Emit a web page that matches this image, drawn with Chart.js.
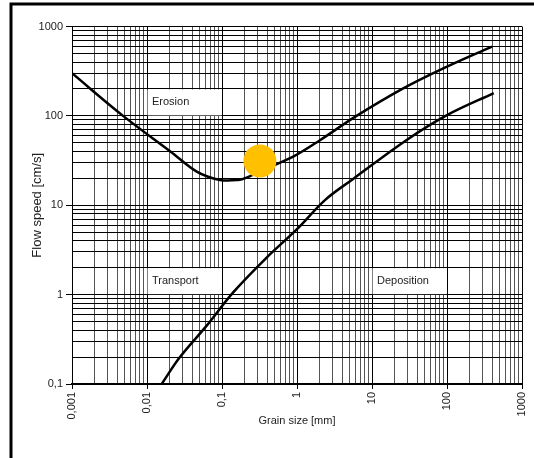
<!DOCTYPE html>
<html>
<head>
<meta charset="utf-8">
<title>Hjulström diagram</title>
<script src="https://cdn.jsdelivr.net/npm/chart.js@4/dist/chart.umd.min.js"></script>
<style>
  html, body { margin: 0; padding: 0; background: #fff; }
  canvas { display: block; }
</style>
</head>
<body>
<canvas id="c" width="534" height="458"></canvas>
<script>
// Erosion threshold curve: grain size [mm] vs. flow speed [cm/s]
const erosionGrain = [0.001, 0.0048, 0.0207, 0.046, 0.094, 0.165, 0.213, 0.4, 0.89, 2.05, 6, 25, 81, 398];
const erosionSpeed = [300, 100, 39.8, 23.8, 19.2, 19.2, 20.4, 26, 35, 53.8, 98, 199, 327, 597];

// Deposition (settling) curve
const depositionGrain = [0.0157, 0.0275, 0.0625, 0.141, 0.394, 1, 2.38, 5.6, 29, 100, 420];
const depositionSpeed = [0.1, 0.2, 0.45, 1.06, 2.6, 5.4, 11.5, 19.7, 53.8, 102, 180];

// Highlighted grain
const markerGrain = [0.32];
const markerSpeed = [31.3];

// Axis decades and their labels
const xDecades = [0.001, 0.01, 0.1, 1, 10, 100, 1000];
const xTickLabels = ['0,001', '0,01', '0,1', '1', '10', '100', '1000'];
const yDecades = [0.1, 1, 10, 100, 1000];
const yTickLabels = ['0,1', '1', '10', '100', '1000'];

// Region captions, with their cell bounds in data units
const regionNames = ['Erosion', 'Transport', 'Deposition'];
const regionGrain = [[0.01, 0.1], [0.01, 0.1], [10, 100]];
const regionSpeed = [[100, 200], [1, 2], [1, 2]];

const FONT = "'Liberation Sans', Arial, sans-serif";

function logTicks(decades) {
  const out = [];
  for (let i = 0; i < decades.length; i++) {
    const d = decades[i];
    out.push({ value: d, major: true });
    if (i < decades.length - 1) {
      for (let k = 2; k <= 9; k++) out.push({ value: +(d * k).toPrecision(6), major: false });
    }
  }
  return out;
}
function isDecade(v, decades) {
  return decades.some(d => Math.abs(v - d) / d < 1e-6);
}
function decadeLabel(v, decades, labels) {
  const i = decades.findIndex(d => Math.abs(v - d) / d < 1e-6);
  return i >= 0 ? labels[i] : '';
}
const pts = (xs, ys) => xs.map((x, i) => ({ x, y: ys[i] }));
const noPadding = () => ({ left: 0, top: 0, right: 0, bottom: 0 });

// White caption boxes laid over the grid cells
const regionPlugin = {
  id: 'regions',
  beforeDatasetsDraw(chart) {
    const { ctx, scales: { x, y } } = chart;
    ctx.save();
    regionNames.forEach((name, i) => {
      const x0 = x.getPixelForValue(regionGrain[i][0]);
      const x1 = x.getPixelForValue(regionGrain[i][1]);
      const y0 = y.getPixelForValue(regionSpeed[i][1]);
      const y1 = y.getPixelForValue(regionSpeed[i][0]);
      ctx.fillStyle = '#fff';
      ctx.fillRect(x0 + 0.5, y0 + 0.5, x1 - x0 - 1, y1 - y0 - 1);
      ctx.fillStyle = '#222';
      ctx.font = '11px ' + FONT;
      ctx.textBaseline = 'middle';
      ctx.textAlign = 'left';
      ctx.fillText(name, x0 + 5, (y0 + y1) / 2);
    });
    ctx.restore();
  }
};

// Outer frame of the figure
const framePlugin = {
  id: 'frame',
  afterDraw(chart) {
    const { ctx } = chart;
    ctx.save();
    ctx.strokeStyle = '#000';
    ctx.lineWidth = 3;
    ctx.beginPath();
    ctx.moveTo(11, 458);
    ctx.lineTo(11, 4);
    ctx.lineTo(540, 4);
    ctx.stroke();
    ctx.restore();
  }
};

const bgPlugin = {
  id: 'bg',
  beforeDraw(chart) {
    const { ctx, width, height } = chart;
    ctx.save();
    ctx.fillStyle = '#fff';
    ctx.fillRect(0, 0, width, height);
    ctx.restore();
  }
};

new Chart(document.getElementById('c'), {
  type: 'scatter',
  data: {
    datasets: [
      {
        label: 'marker',
        data: pts(markerGrain, markerSpeed),
        pointRadius: 16.5,
        pointHoverRadius: 16.5,
        backgroundColor: '#FFC000',
        borderWidth: 0,
        order: 0
      },
      {
        label: 'Erosion',
        data: pts(erosionGrain, erosionSpeed),
        showLine: true,
        borderColor: '#000',
        borderWidth: 2.5,
        pointRadius: 0,
        tension: 0.35,
        order: 1
      },
      {
        label: 'Deposition',
        data: pts(depositionGrain, depositionSpeed),
        showLine: true,
        borderColor: '#000',
        borderWidth: 2.5,
        pointRadius: 0,
        tension: 0.35,
        order: 1
      }
    ]
  },
  options: {
    responsive: false,
    devicePixelRatio: 1,
    animation: false,
    layout: {
      autoPadding: false,
      padding: { left: 0, right: 12, top: 26.5, bottom: 0 }
    },
    plugins: {
      legend: { display: false },
      tooltip: { enabled: false }
    },
    scales: {
      x: {
        type: 'logarithmic',
        min: 0.001,
        max: 1000,
        afterBuildTicks(scale) { scale.ticks = logTicks(xDecades); },
        afterFit(scale) {
          scale.height = 74;
          // the rotated end labels must not widen the side margins
          scale.paddingLeft = 0;
          scale.paddingRight = 0;
          scale.getPadding = noPadding;
        },
        grid: {
          color: c => (c.tick && isDecade(c.tick.value, xDecades)) ? '#000' : '#555',
          lineWidth: 1,
          tickLength: 5,
          tickColor: c => (c.tick && isDecade(c.tick.value, xDecades)) ? '#000' : 'rgba(0,0,0,0)'
        },
        border: { color: '#000', width: 2 },
        ticks: {
          autoSkip: false,
          minRotation: 90,
          maxRotation: 90,
          padding: 3,
          color: '#222',
          font: { family: FONT, size: 11 },
          callback: v => decadeLabel(v, xDecades, xTickLabels)
        },
        title: {
          display: true,
          text: 'Grain size [mm]',
          color: '#222',
          font: { family: FONT, size: 11 },
          padding: { top: 0, bottom: 30.4 }
        }
      },
      y: {
        type: 'logarithmic',
        min: 0.1,
        max: 1000,
        afterBuildTicks(scale) { scale.ticks = logTicks(yDecades); },
        afterFit(scale) {
          scale.width = 72;
          scale.paddingTop = 0;
          scale.paddingBottom = 0;
          scale.getPadding = noPadding;
        },
        grid: {
          color: '#000',
          lineWidth: 1,
          tickLength: 6,
          tickColor: c => (c.tick && isDecade(c.tick.value, yDecades)) ? '#000' : 'rgba(0,0,0,0)'
        },
        border: { color: '#000', width: 1 },
        ticks: {
          autoSkip: false,
          padding: 3,
          color: '#222',
          font: { family: FONT, size: 11 },
          callback: v => decadeLabel(v, yDecades, yTickLabels)
        },
        title: {
          display: true,
          text: 'Flow speed [cm/s]',
          color: '#222',
          font: { family: FONT, size: 13 },
          padding: { top: 29.2, bottom: 0 }
        }
      }
    }
  },
  plugins: [bgPlugin, regionPlugin, framePlugin]
});
</script>
</body>
</html>
